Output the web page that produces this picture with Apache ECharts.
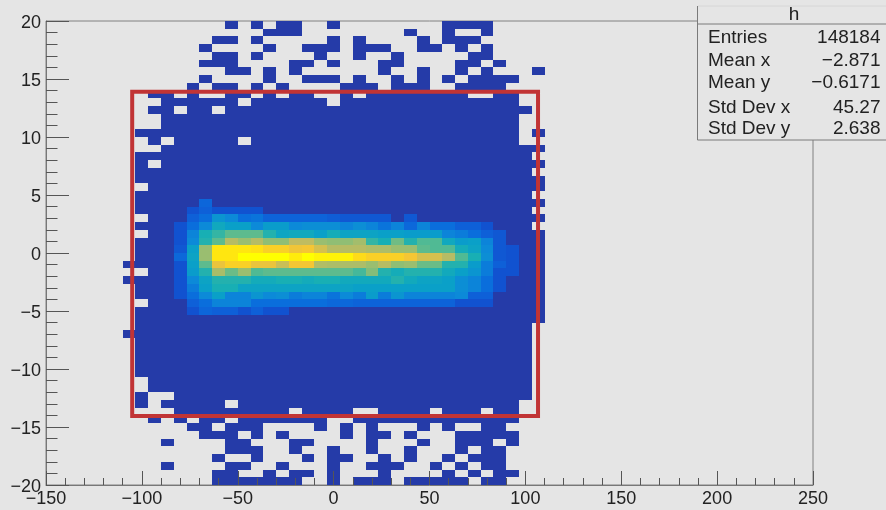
<!DOCTYPE html>
<html>
<head>
<meta charset="utf-8">
<style>html,body{margin:0;padding:0;background:#e5e5e5}#c{width:886px;height:510px;filter:blur(0.4px)}</style>
<script src="https://cdn.jsdelivr.net/npm/echarts@6/dist/echarts.min.js"></script>
</head>
<body>
<div id="c"></div>
<script>
const xRange = [-150, 250];
const yRange = [-20, 20];
const binCount = 60;

// Occupied bins per row, top row first: single column numbers or [from, to] runs.
const rowCells = [
 [14,16,[18,19],22,[31,34]],
 [[17,19],28,31,34],
 [[13,14],16,22,24,29,[31,33]],
 [12,17,[20,22],[24,26],[29,30],32,34],
 [[13,14],16,21,24,27,[33,34]],
 [[12,14],[19,20],22,[26,27],[32,33],35],
 [[14,15],17,19,26,29,32,34,38],
 [12,17,[20,22],24,27,29,31,[33,36]],
 [11,[13,14],16,18,[23,25],[27,29],[32,35]],
 [[8,9],11,[14,15],17,[19,20],23,[25,32],[35,36]],
 [[9,14],[16,21],[23,36]],
 [[8,9],[11,12],[14,37]],
 [[9,36]],
 [[9,36]],
 [[7,36],38],
 [8,[10,14],[16,36]],
 [[9,38]],
 [[7,37]],
 [7,[9,38]],
 [[7,37]],
 [[7,38]],
 [[8,38]],
 [[7,37]],
 [[7,38]],
 [[7,37]],
 [[8,38]],
 [[7,37]],
 [[8,38]],
 [[7,38]],
 [[7,38]],
 [[7,38]],
 [[6,38]],
 [[8,38]],
 [[6,38]],
 [[7,38]],
 [[7,38]],
 [[8,38]],
 [[7,38]],
 [[7,38]],
 [[7,37]],
 [[6,37]],
 [[7,37]],
 [[7,37]],
 [[7,37]],
 [[7,37]],
 [[7,37]],
 [[8,37]],
 [[8,37]],
 [7,[10,37]],
 [7,[9,13],[15,36]],
 [[10,18],[20,23],[26,29],[31,33],[35,36]],
 [8,10,[12,13],[15,21],[24,36]],
 [[11,12],[14,16],21,23,25,29,31,[34,35]],
 [[12,14],16,18,23,[25,26],28,[32,36]],
 [9,[14,15],[19,20],25,29,[32,34],36],
 [[14,16],19,22,25,28,32,[34,35]],
 [13,16,20,[22,23],26,28,31,[33,35]],
 [9,[14,15],18,22,[25,27],30,32,[34,35]],
 [[13,14],17,[19,20],22,26,31,33,[35,36]],
 [[13,19],22,[24,26],[28,32],[34,35]]
];

// Bright core of the histogram: rows 23..37 from the top, columns 10..36.
const coreFirstRow = 23;
const coreFirstCol = 10;
const coreRows = [
 [0,0,17,0,0,0,0,0,0,0,0,0,0,0,0,0,0,0,0,0,0,0,0,0,0,0,0],
 [0,10,15,10,10,10,10,0,0,0,0,0,0,0,0,0,0,0,0,0,0,0,0,0,0,0,0],
 [0,15,20,35,30,20,22,16,16,16,16,16,14,12,12,12,12,0,12,0,0,0,0,0,0,0,0],
 [10,20,30,45,40,40,30,38,38,30,32,32,32,28,32,28,22,28,18,28,20,20,15,15,10,0,0],
 [10,28,50,55,62,62,62,52,43,45,45,40,48,42,42,42,40,40,38,38,38,28,25,20,15,12,0],
 [10,30,52,62,78,72,78,70,70,80,80,72,70,70,74,55,50,65,52,60,60,45,38,40,28,12,0],
 [12,40,72,96,96,96,95,92,92,89,90,84,78,78,78,76,76,72,72,62,60,60,48,42,30,12,10],
 [18,42,72,96,96,100,100,100,100,97,100,98,98,98,94,92,92,92,90,84,84,78,60,50,32,12,10],
 [10,40,62,88,92,92,88,88,82,90,90,77,76,76,76,72,78,70,72,64,64,52,52,38,25,15,10],
 [10,38,52,75,64,72,60,62,62,62,62,62,62,62,58,68,52,48,52,52,52,46,40,35,25,10,10],
 [10,30,42,52,52,52,47,47,50,50,47,50,50,46,46,46,46,52,46,42,42,40,32,28,20,10,0],
 [10,25,40,50,50,42,42,42,42,42,42,42,42,42,40,40,40,40,40,40,40,40,32,28,20,10,0],
 [10,20,30,40,28,28,35,30,32,25,28,28,22,30,25,38,25,35,28,28,28,28,30,15,15,0,0],
 [0,15,20,28,28,28,20,20,20,20,20,20,18,18,16,16,16,16,16,16,16,16,10,10,10,0,0],
 [0,10,17,15,15,10,15,10,10,0,0,0,0,0,0,0,0,0,0,0,0,0,0,0,0,0,0]
];

// Palette stops for levels 0, 5, 10 ... 100.
const paletteColors = ['#253BA8','#1A47BC','#1152D0','#0E60D8','#0A6EDC','#0B7CDA','#0C8AD8','#0B95D0','#0AA0C8','#11A8BE',
  '#18AFB4','#34B5A4','#50BA94','#70BC84','#90BE74','#A8BD6A','#C0BC60','#DAC14A','#F5C634','#FFE014','#FFFF00'];

// The drawn selection box (x low, x high, y low, y high).
const selectionBox = [-105.05, 106.6, -14.05, 13.9];

const statsTitle = 'h';
const statsNames = ['Entries', 'Mean x', 'Mean y', 'Std Dev x', 'Std Dev y'];
const statsValues = ['148184', '\u22122.871', '\u22120.6171', '45.27', '2.638'];

const xW = (xRange[1] - xRange[0]) / binCount;
const yW = (yRange[1] - yRange[0]) / binCount;

const cells = [];
rowCells.forEach((runs, r) => {
  runs.forEach(run => {
    const [a, b] = Array.isArray(run) ? run : [run, run];
    for (let k = a; k <= b; k++) {
      const core = coreRows[r - coreFirstRow];
      const level = core && core[k - coreFirstCol] ? core[k - coreFirstCol] : 0;
      cells.push([
        xRange[0] + k * xW, xRange[0] + (k + 1) * xW,
        yRange[1] - (r + 1) * yW, yRange[1] - r * yW,
        level
      ]);
    }
  });
});

const minusFmt = v => String(v).replace('-', '\u2212');
const font = '"Liberation Sans", Arial, sans-serif';
const tickColor = '#555';

const statsY = [37.5, 61, 83, 107.5, 129];
const graphics = [
  { type: 'rect', z: 100, shape: { x: 697.5, y: 6, width: 200, height: 134 },
    style: { fill: '#e5e5e5', stroke: null } },
  { type: 'line', z: 101, shape: { x1: 698, y1: 6, x2: 886, y2: 6 }, style: { stroke: '#d6d6d6', lineWidth: 1 } },
  { type: 'line', z: 101, shape: { x1: 697.5, y1: 6, x2: 697.5, y2: 140 }, style: { stroke: '#7a7a7a', lineWidth: 1 } },
  { type: 'line', z: 101, shape: { x1: 697.5, y1: 140, x2: 886, y2: 140 }, style: { stroke: '#7a7a7a', lineWidth: 1 } },
  { type: 'line', z: 101, shape: { x1: 698, y1: 24, x2: 886, y2: 24 }, style: { stroke: '#7a7a7a', lineWidth: 1 } },
  { type: 'text', z: 101, style: { x: 794, y: 15, text: statsTitle, fill: '#222', font: '19px ' + font, textAlign: 'center', textVerticalAlign: 'middle' } }
];
statsNames.forEach((n, i) => {
  graphics.push({ type: 'text', z: 101, style: { x: 708, y: statsY[i], text: n, fill: '#222', font: '19px ' + font, textAlign: 'left', textVerticalAlign: 'middle' } });
  graphics.push({ type: 'text', z: 101, style: { x: 880.5, y: statsY[i], text: statsValues[i], fill: '#222', font: '19px ' + font, textAlign: 'right', textVerticalAlign: 'middle' } });
});

const chart = echarts.init(document.getElementById('c'), null, { renderer: 'canvas' });
chart.setOption({
  animation: false,
  backgroundColor: '#e5e5e5',
  grid: { left: 46, right: 73, top: 21, bottom: 25, show: true, borderColor: '#808080', borderWidth: 1, backgroundColor: 'transparent' },
  xAxis: {
    type: 'value', min: xRange[0], max: xRange[1], interval: 50, z: 10,
    splitLine: { show: false },
    axisLine: { show: true, onZero: false, lineStyle: { color: '#777', width: 1 } },
    axisTick: { show: true, inside: true, length: 14, lineStyle: { color: tickColor, width: 1 } },
    minorTick: { show: true, splitNumber: 5, length: 7, lineStyle: { color: tickColor, width: 1 } },
    axisLabel: { color: '#222', fontSize: 18, fontFamily: font, margin: 5, formatter: minusFmt, showMinLabel: true, showMaxLabel: true, hideOverlap: false }
  },
  yAxis: {
    type: 'value', min: yRange[0], max: yRange[1], interval: 5, z: 10,
    splitLine: { show: false },
    axisLine: { show: true, onZero: false, lineStyle: { color: '#777', width: 1 } },
    axisTick: { show: true, inside: true, length: 23, lineStyle: { color: tickColor, width: 1 } },
    minorTick: { show: true, splitNumber: 5, length: 11.5, lineStyle: { color: tickColor, width: 1 } },
    axisLabel: { color: '#222', fontSize: 18, fontFamily: font, margin: 5, verticalAlign: 'top', lineHeight: 4, formatter: minusFmt, showMinLabel: true, showMaxLabel: true, hideOverlap: false }
  },
  visualMap: {
    show: false, type: 'continuous', seriesIndex: 0, dimension: 4, min: 0, max: 100,
    inRange: { color: paletteColors }
  },
  series: [
    {
      type: 'custom', z: 2, silent: true, clip: true,
      data: cells,
      encode: { x: [0, 1], y: [2, 3] },
      renderItem(params, api) {
        const p0 = api.coord([api.value(0), api.value(3)]);
        const p1 = api.coord([api.value(1), api.value(2)]);
        const x0 = Math.round(p0[0]), y0 = Math.round(p0[1]);
        return {
          type: 'rect',
          shape: { x: x0, y: y0, width: Math.round(p1[0]) - x0, height: Math.round(p1[1]) - y0 },
          style: { fill: api.visual('color') }
        };
      }
    },
    {
      type: 'custom', z: 5, silent: true, clip: false,
      data: [selectionBox],
      encode: { x: [0, 1], y: [2, 3] },
      renderItem(params, api) {
        const p0 = api.coord([api.value(0), api.value(3)]);
        const p1 = api.coord([api.value(1), api.value(2)]);
        return {
          type: 'rect',
          shape: { x: p0[0], y: p0[1], width: p1[0] - p0[0], height: p1[1] - p0[1] },
          style: { fill: 'none', stroke: '#C13435', lineWidth: 4 }
        };
      }
    }
  ],
  graphic: { elements: graphics }
});
</script>
</body>
</html>
